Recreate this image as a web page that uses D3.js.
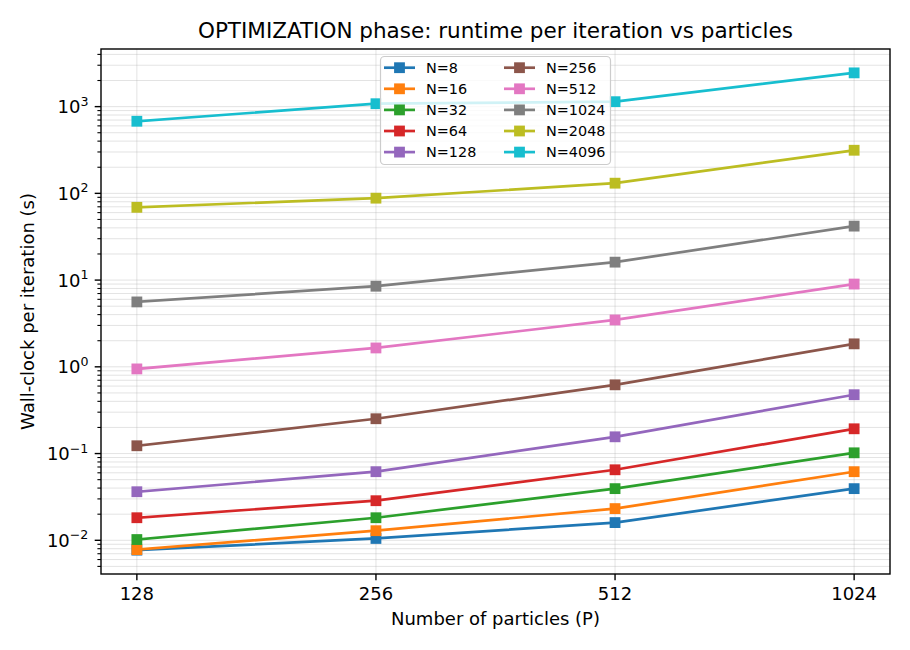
<!DOCTYPE html>
<html>
<head>
<meta charset="utf-8">
<script src="https://cdn.jsdelivr.net/npm/d3@7"></script>
<style>
  html, body { margin: 0; padding: 0; background: #fff; }
  svg { display: block; font-family: "DejaVu Sans", sans-serif; }
</style>
</head>
<body>
<svg id="chart" width="910" height="650"></svg>
<script>
// ---- data ----
const particles = [128, 256, 512, 1024];
const seriesNames = ["N=8", "N=16", "N=32", "N=64", "N=128", "N=256", "N=512", "N=1024", "N=2048", "N=4096"];
const n8    = [0.0077, 0.0105, 0.0160, 0.0394];
const n16   = [0.0078, 0.0129, 0.0232, 0.0618];
const n32   = [0.0102, 0.0182, 0.0394, 0.1020];
const n64   = [0.0182, 0.0286, 0.0650, 0.1930];
const n128  = [0.0363, 0.0618, 0.1560, 0.4770];
const n256  = [0.1230, 0.2520, 0.6200, 1.8400];
const n512  = [0.9460, 1.6500, 3.4700, 9.0000];
const n1024 = [5.60, 8.50, 16.1, 41.9];
const n2048 = [69.0, 88.0, 131.0, 314.0];
const n4096 = [678.0, 1080.0, 1140.0, 2450.0];
const seriesValues = [n8, n16, n32, n64, n128, n256, n512, n1024, n2048, n4096];
const colors = ["#1f77b4", "#ff7f0e", "#2ca02c", "#d62728", "#9467bd", "#8c564b", "#e377c2", "#7f7f7f", "#bcbd22", "#17becf"];
const xTickLabels = ["128", "256", "512", "1024"];
const titleText = "OPTIMIZATION phase: runtime per iteration vs particles";
const xLabelText = "Number of particles (P)";
const yLabelText = "Wall-clock per iteration (s)";

// ---- layout ----
const W = 910, H = 650;
const L = 101, R = 890, T = 49, B = 574;
const svg = d3.select("#chart");

// log-space 5% margins like matplotlib
const lx = particles.map(Math.log2);
const xmin = d3.min(lx), xmax = d3.max(lx), xp = (xmax - xmin) * 0.05;
const x = d3.scaleLog().base(2).domain([2 ** (xmin - xp), 2 ** (xmax + xp)]).range([L, R]);
const allV = seriesValues.flat().map(Math.log10);
const ymin = d3.min(allV), ymax = d3.max(allV), yp = (ymax - ymin) * 0.05;
const y = d3.scaleLog().domain([10 ** (ymin - yp), 10 ** (ymax + yp)]).range([B, T]);

// ---- grid ----
const grid = svg.append("g").attr("stroke", "#b0b0b0").attr("stroke-opacity", 0.35).attr("stroke-width", 1);
const [d0, d1] = y.domain();
const majors = [], minors = [];
for (let e = Math.floor(Math.log10(d0)); e <= Math.ceil(Math.log10(d1)); e++) {
  for (let m = 1; m <= 9; m++) {
    const v = m * 10 ** e;
    if (v >= d0 && v <= d1) (m === 1 ? majors : minors).push(v);
  }
}
grid.selectAll(".gy").data(majors.concat(minors)).enter().append("line")
  .attr("x1", L).attr("x2", R).attr("y1", d => y(d)).attr("y2", d => y(d));
grid.selectAll(".gx").data(particles).enter().append("line")
  .attr("y1", T).attr("y2", B).attr("x1", d => x(d)).attr("x2", d => x(d));

// ---- series ----
const line = d3.line().x((d, i) => x(particles[i])).y(d => y(d));
seriesValues.forEach((vals, k) => {
  const g = svg.append("g");
  g.append("path").attr("d", line(vals)).attr("fill", "none")
    .attr("stroke", colors[k]).attr("stroke-width", 2.7).attr("stroke-linejoin", "round").attr("stroke-linecap", "square");
  g.selectAll("rect").data(vals).enter().append("rect")
    .attr("x", (d, i) => x(particles[i]) - 5.4).attr("y", d => y(d) - 5.4)
    .attr("width", 10.8).attr("height", 10.8).attr("fill", colors[k]);
});

// ---- axes frame ----
svg.append("rect").attr("x", L).attr("y", T).attr("width", R - L).attr("height", B - T)
  .attr("fill", "none").attr("stroke", "#000").attr("stroke-width", 1.4);

// x ticks
const xt = svg.append("g");
particles.forEach((p, i) => {
  xt.append("line").attr("x1", x(p)).attr("x2", x(p)).attr("y1", B).attr("y2", B + 6.3).attr("stroke", "#000").attr("stroke-width", 1.4);
  xt.append("text").attr("x", x(p)).attr("y", 600.3).attr("text-anchor", "middle")
    .attr("font-size", 18).attr("fill", "#000").text(xTickLabels[i]);
});

// y ticks
const yt = svg.append("g");
majors.forEach(v => {
  yt.append("line").attr("x1", L - 6.3).attr("x2", L).attr("y1", y(v)).attr("y2", y(v)).attr("stroke", "#000").attr("stroke-width", 1.4);
  const e = Math.round(Math.log10(v));
  const t = yt.append("text").attr("x", L - 12.6).attr("y", y(v) + 6.5).attr("text-anchor", "end")
    .attr("font-size", 18).attr("fill", "#000");
  t.append("tspan").text("10");
  t.append("tspan").attr("dy", -7.5).attr("font-size", 12.6).text(e < 0 ? "\u2212" + (-e) : String(e));
});
minors.forEach(v => {
  yt.append("line").attr("x1", L - 3.6).attr("x2", L).attr("y1", y(v)).attr("y2", y(v)).attr("stroke", "#000").attr("stroke-width", 1.1);
});

// labels
svg.append("text").attr("x", (L + R) / 2).attr("y", 625).attr("text-anchor", "middle")
  .attr("font-size", 18).text(xLabelText);
svg.append("text").attr("transform", `translate(33.5,${(T + B) / 2}) rotate(-90)`).attr("text-anchor", "middle")
  .attr("font-size", 18).text(yLabelText);
svg.append("text").attr("x", (L + R) / 2).attr("y", 38).attr("text-anchor", "middle")
  .attr("font-size", 21.5).text(titleText);

// ---- legend ----
const lg = svg.append("g");
lg.append("rect").attr("x", 380.5).attr("y", 56.5).attr("width", 230).attr("height", 108).attr("rx", 4)
  .attr("fill", "#fff").attr("fill-opacity", 0.8).attr("stroke", "#cccccc").attr("stroke-width", 1.2);
seriesNames.forEach((name, k) => {
  const col = Math.floor(k / 5), row = k % 5;
  const hx = col === 0 ? 384 : 504;
  const ty = 67.7 + row * 21.1;
  lg.append("line").attr("x1", hx).attr("x2", hx + 31).attr("y1", ty).attr("y2", ty)
    .attr("stroke", colors[k]).attr("stroke-width", 2.7);
  lg.append("rect").attr("x", hx + 15.5 - 5.4).attr("y", ty - 5.4).attr("width", 10.8).attr("height", 10.8).attr("fill", colors[k]);
  lg.append("text").attr("x", hx + 42).attr("y", ty + 5.2).attr("font-size", 14.4).attr("fill", "#000").text(name);
});
</script>
</body>
</html>
